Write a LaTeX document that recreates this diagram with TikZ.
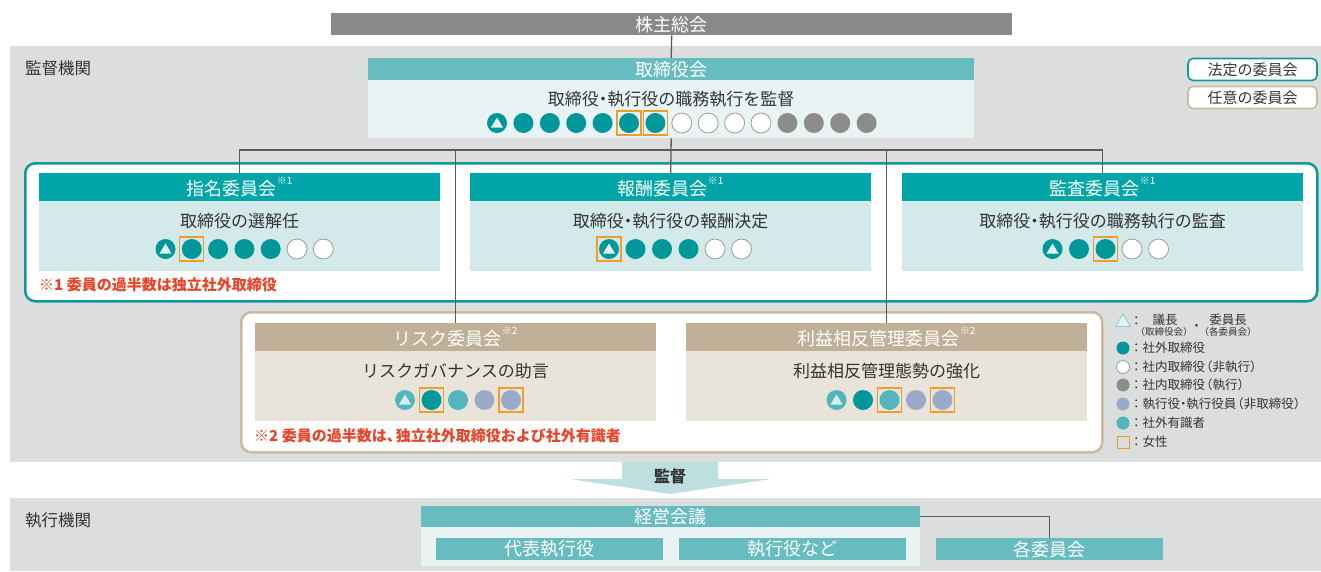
\documentclass[tikz,border=0pt]{standalone}
\usepackage{fontspec}
\setmainfont{Noto Sans CJK JP}
\usetikzlibrary{calc}
\definecolor{bggray}{HTML}{DCDDDD}
\definecolor{kabuc}{HTML}{898989}
\definecolor{topH}{HTML}{66BCBF}
\definecolor{topB}{HTML}{EAF3F4}
\definecolor{legH}{HTML}{00A5A8}
\definecolor{legB}{HTML}{D4EAEA}
\definecolor{legF}{HTML}{0E9A9B}
\definecolor{optH}{HTML}{BFB097}
\definecolor{optB}{HTML}{E8E4DA}
\definecolor{optF}{HTML}{C9BBA0}
\definecolor{cT}{HTML}{00979A}
\definecolor{cG}{HTML}{8C8C8C}
\definecolor{cL}{HTML}{9BA9CB}
\definecolor{cS}{HTML}{52B7BC}
\definecolor{cWb}{HTML}{9A9A9A}
\definecolor{triA}{HTML}{E4F2F2}
\definecolor{triB}{HTML}{D5EEEE}
\definecolor{obox}{HTML}{F29B25}
\definecolor{noteC}{HTML}{E8442A}
\definecolor{txt}{HTML}{333333}
\definecolor{lnC}{HTML}{5A5A5A}
\definecolor{arrC}{HTML}{BEDFE0}
\newcommand\fsz[1]{\fontsize{#1}{#1}\selectfont}
\newcommand\sy[1]{\raisebox{.6em}{\fsz{10}#1}}
\newcommand\nd{\kern-.25em・\kern-.25em}
\newcommand\lp{\kern-.4em（}
\newcommand\rp{）}
\newcommand\rpk{）\kern-.4em}
\newcommand\tc{、\kern-.4em}
\tikzset{
  mdot/.style={circle, minimum size=20pt, inner sep=0pt, draw=none},
  ldot/.style={circle, minimum size=13pt, inner sep=0pt, draw=none},
  dotT/.style={fill=cT},
  dotW/.style={fill=white, draw=cWb, line width=0.8pt},
  dotG/.style={fill=cG},
  dotL/.style={fill=cL},
  dotS/.style={fill=cS},
  trimark/.style={path picture={\fill[#1] ([yshift=5.5pt]path picture bounding box.center) -- ([shift={(6pt,-4.5pt)}]path picture bounding box.center) -- ([shift={(-6pt,-4.5pt)}]path picture bounding box.center) -- cycle;}},
  dotC/.style={fill=cT, trimark=triA},
  dotQ/.style={fill=cS, trimark=triB},
  orbox/.style={draw=obox, line width=1.3pt},
  conn/.style={draw=lnC, line width=1.3pt},
  box/.style={inner sep=0pt, anchor=north west},
  topHdr/.style={box, fill=topH, text=white, font=\fsz{18}},
  topBody/.style={box, fill=topB},
  legHdr/.style={box, fill=legH, text=white, font=\fsz{18}, minimum width=401pt, minimum height=28pt},
  legBody/.style={box, fill=legB, minimum width=401pt, minimum height=70pt},
  optHdr/.style={box, fill=optH, text=white, font=\fsz{18}, minimum width=401pt, minimum height=28pt},
  optBody/.style={box, fill=optB, minimum width=401pt, minimum height=70pt},
  btxt/.style={inner sep=0pt, text=txt, font=\fsz{17}},
  note/.style={inner sep=0pt, anchor=west, text=noteC, font=\fsz{15}\bfseries},
  lab/.style={inner sep=0pt, anchor=west, text=txt, font=\fsz{16.5}},
  legtxt/.style={inner sep=0pt, anchor=west, text=txt, font=\fsz{12.5}},
  legsm/.style={inner sep=0pt, text=txt, font=\fsz{9.5}},
  frame/.style={box, fill=white, rounded corners=10pt, line width=2.5pt},
  legkey/.style={draw, fill=white, rounded corners=5pt, line width=1.6pt, minimum width=129pt, minimum height=22pt, inner sep=0pt, text=txt, font=\fsz{15}},
  subbox/.style={box, fill=topH, text=white, font=\fsz{18}, minimum width=227pt, minimum height=22pt},
}
\newcommand\drow[3]{%
  \foreach \x/\c/\b [count=\i] in {#3} {%
    \node[mdot,dot\c] (#1-\i) at (\x,#2) {};
    \ifnum\b=1 \draw[orbox] (\x-12,#2-12) rectangle (\x+12,#2+12);\fi
  }}
\begin{document}
\begin{tikzpicture}[x=1pt,y=-1pt]
\useasboundingbox (0,0) rectangle (1321,571);
\fill[white] (0,0) rectangle (1321,571);
% backgrounds
\fill[bggray] (10,46) rectangle (1321,462);
\fill[bggray] (10,498) rectangle (1321,571);
\node[lab] (lab1) at (25,68) {監督機関};
\node[lab] (lab2) at (25,520) {執行機関};
% shareholders
\node[box, fill=kabuc, text=white, font=\fsz{18}, minimum width=681pt, minimum height=22pt] (kabu) at (331,13) {株主総会};
% board
\node[topHdr, minimum width=606pt, minimum height=22pt] (tori) at (368,58) {取締役会};
\node[topBody, minimum width=606pt, minimum height=58pt] (toriB) at (368,80) {};
\node[btxt] (toriT) at (671,99) {取締役\nd 執行役の職務執行を監督};
% frames
\node[frame, draw=legF, minimum width=1292pt, minimum height=138pt] (hotei) at (24,162) {};
\node[frame, draw=optF, minimum width=861pt, minimum height=140pt] (nini) at (240,311) {};
% committees headers (for connectors)
\node[legHdr] (shimei) at (39,173) {指名委員会\sy{※1}};
\node[legHdr] (hoshu) at (470,173) {報酬委員会\sy{※1}};
\node[legHdr] (kansa) at (902,173) {監査委員会\sy{※1}};
\node[optHdr] (risk) at (255,323) {リスク委員会\sy{※2}};
\node[optHdr] (rieki) at (686,323) {利益相反管理委員会\sy{※2}};
% connectors
\coordinate (hub) at (671,150);
\draw[conn] (kabu.south) -- (tori.north);
\draw[conn] (toriB.south) -- (hoshu.north);
\draw[conn] (shimei.north) |- (hub) -| (kansa.north);
\draw[conn] (risk.north) -- (risk.north |- hub);
\draw[conn] (rieki.north) -- (rieki.north |- hub);
% committee bodies
\node[legBody] (shimeiB) at (39,201) {};
\node[legBody] (hoshuB) at (470,201) {};
\node[legBody] (kansaB) at (902,201) {};
\node[optBody] (riskB) at (255,351) {};
\node[optBody] (riekiB) at (686,351) {};
\node[btxt] (shimeiT) at (239.5,221) {取締役の選解任};
\node[btxt] (hoshuT) at (670.5,221) {取締役\nd 執行役の報酬決定};
\node[btxt] (kansaT) at (1102.5,221) {取締役\nd 執行役の職務執行の監査};
\node[btxt] (riskT) at (455.5,371) {リスクガバナンスの助言};
\node[btxt] (riekiT) at (886.5,371) {利益相反管理態勢の強化};
\node[note] (note1) at (39,285) {※1 委員の過半数は独立社外取締役};
\node[note] (note2) at (254,436) {※2 委員の過半数は\tc 独立社外取締役および社外有識者};
% dots
\drow{td}{123}{497/C/0,523.4/T/0,549.8/T/0,576.2/T/0,602.6/T/0,629/T/1,655.4/T/1,681.8/W/0,708.2/W/0,734.6/W/0,761/W/0,787.4/G/0,813.8/G/0,840.2/G/0,866.6/G/0}
\drow{sd}{249}{165.5/C/0,191.8/T/1,218.1/T/0,244.4/T/0,270.7/T/0,297/W/0,323.3/W/0}
\drow{hd}{249}{609/C/1,635.5/T/0,662/T/0,688.5/T/0,715/W/0,741.5/W/0}
\drow{kd}{249}{1052.5/C/0,1079/T/0,1105.5/T/1,1132/W/0,1158.5/W/0}
\drow{rd}{400}{405/Q/0,431.5/T/1,458/S/0,484.5/L/0,511/L/1}
\drow{ed}{400}{836.5/Q/0,863/T/0,889.5/S/1,916/L/0,942.5/L/1}
% legend top
\node[legkey, draw=legF] (key1) at (1252.5,69.5) {法定の委員会};
\node[legkey, draw=optF] (key2) at (1252.5,97.5) {任意の委員会};
% legend bottom
\draw[draw=cS!70, fill=triA, line width=0.8pt] (1123,314) -- (1130.5,326.5) -- (1115.5,326.5) -- cycle;
\node[legtxt] (lc0) at (1130,321) {：};
\node[inner sep=0pt, text=txt, font=\fsz{12.5}] (lg0a) at (1165,320) {議長};
\node[legsm] (lg0b) at (1164,332) {\lp 取締役会\rpk};
\node[inner sep=0pt, text=txt, font=\fsz{12.5}] (lg0c) at (1196.5,327) {\kern-.38em・\kern-.38em};
\node[inner sep=0pt, text=txt, font=\fsz{12.5}] (lg0d) at (1228,320) {委員長};
\node[legsm] (lg0e) at (1228,332) {\lp 各委員会\rpk};
\node[ldot, dotT] (lk1) at (1123,348) {};
\node[legtxt] (lt1) at (1130,348) {：社外取締役};
\node[ldot, dotW] (lk2) at (1123,367) {};
\node[legtxt] (lt2) at (1130,367) {：社内取締役\lp 非執行\rp};
\node[ldot, dotG] (lk3) at (1123,385) {};
\node[legtxt] (lt3) at (1130,385) {：社内取締役\lp 執行\rp};
\node[ldot, dotL] (lk4) at (1123,404) {};
\node[legtxt] (lt4) at (1130,404) {：執行役\nd 執行役員\lp 非取締役\rp};
\node[ldot, dotS] (lk5) at (1123,423) {};
\node[legtxt] (lt5) at (1130,423) {：社外有識者};
\node[draw=obox, line width=1.2pt, minimum size=12.5pt, inner sep=0pt] (lk6) at (1123.5,442.5) {};
\node[legtxt] (lt6) at (1130,442) {：女性};
% supervise arrow
\fill[arrC] (622,462) -- (718,462) -- (718,479) -- (771,479) -- (670,494) -- (570,479) -- (622,479) -- cycle;
\node[inner sep=0pt, text=txt, font=\fsz{16}\bfseries] (kantoku) at (670,476) {監督};
% execution
\node[topHdr, minimum width=499pt, minimum height=21pt] (keiei) at (421,506) {経営会議};
\node[topBody, minimum width=499pt, minimum height=39pt] (keieiB) at (421,527) {};
\node[subbox] (daihyo) at (436,538) {代表執行役};
\node[subbox] (shikko) at (679,538) {執行役など};
\node[subbox] (kakui) at (936,538) {各委員会};
\draw[conn] (keiei.east) -| (kakui.north);
\end{tikzpicture}
\end{document}
